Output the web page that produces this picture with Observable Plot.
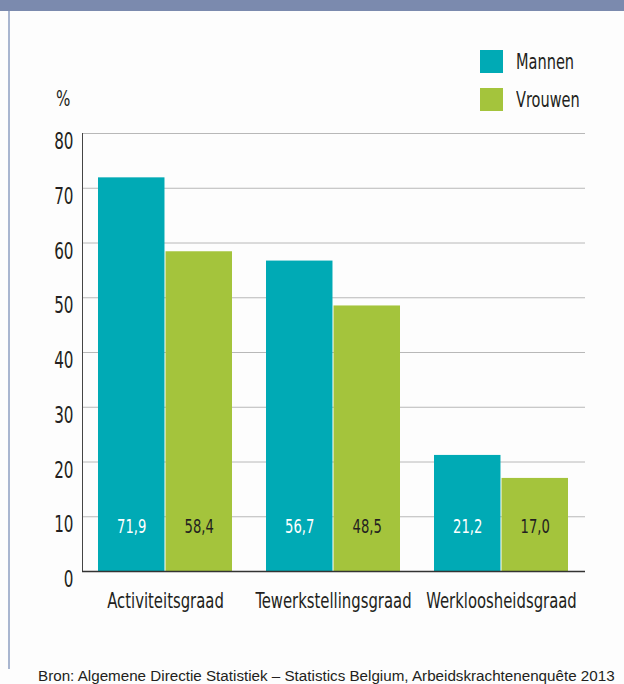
<!DOCTYPE html>
<html>
<head>
<meta charset="utf-8">
<script src="https://cdn.jsdelivr.net/npm/d3@7"></script>
<script src="https://cdn.jsdelivr.net/npm/@observablehq/plot@0.6"></script>
<style>
  html, body { margin: 0; padding: 0; background: #fdfdfd; }
  #page { position: relative; width: 624px; height: 684px; overflow: hidden; background: #fdfdfd;
    font-family: "DejaVu Sans Condensed", "DejaVu Sans", sans-serif; color: #231f20; }
  #header { position: absolute; left: 0; top: 0; width: 624px; height: 11px; background: #7b8aae; }
  #border { position: absolute; left: 8px; top: 11px; width: 2px; height: 658px; background: #a9b6d0; }
  #chart { position: absolute; left: 0; top: 0; }
  .sw { position: absolute; width: 23px; height: 23px; }
  .lt { position: absolute; font-size: 21px; line-height: 24px; transform: scaleX(0.77); transform-origin: left center; white-space: nowrap; }
  #pct { position: absolute; left: 56px; top: 87px; font-size: 21px; line-height: 24px; transform: scaleX(0.8); transform-origin: left center; }
  #caption { position: absolute; left: 38px; top: 667px; font-size: 15.2px; white-space: nowrap;
    font-family: "Liberation Sans", "DejaVu Sans", sans-serif; }
</style>
</head>
<body>
<div id="page">
  <div id="header"></div>
  <div id="border"></div>
  <div id="chart"></div>
  <div id="pct">%</div>
  <div class="sw" style="left:480px;top:50px;background:#00aab5"></div>
  <div class="lt" style="left:516px;top:50px">Mannen</div>
  <div class="sw" style="left:480px;top:88px;background:#a4c43c"></div>
  <div class="lt" style="left:516px;top:88px">Vrouwen</div>
  <div id="caption">Bron: Algemene Directie Statistiek – Statistics Belgium, Arbeidskrachtenenquête 2013</div>
</div>
<script>
const categories = ["Activiteitsgraad", "Tewerkstellingsgraad", "Werkloosheidsgraad"];
const mannen = [71.9, 56.7, 21.2];
const vrouwen = [58.4, 48.5, 17.0];
const yTicks = [0, 10, 20, 30, 40, 50, 60, 70, 80];

const teal = "#00aab5";
const green = "#a4c43c";

const rows = categories.map((c, i) => ({cat: c, m: mannen[i], v: vrouwen[i]}));
const fmt = d => d.toFixed(1).replace(".", ",");

const W = 624, ML = 82, MR = 39;
const pi = 0.2, po = 0.09;
const step = (W - ML - MR) / (categories.length - pi + 2 * po);
const half = step * (1 - pi) / 2;

const chart = Plot.plot({
  width: W,
  height: 620,
  marginLeft: ML,
  marginRight: MR,
  marginTop: 133,
  marginBottom: 49,
  style: {background: "transparent", fontFamily: "\"DejaVu Sans Condensed\", \"DejaVu Sans\", sans-serif", color: "#231f20"},
  x: {domain: categories, paddingInner: pi, paddingOuter: po, axis: null},
  y: {domain: [0, 80], axis: null},
  marks: [
    Plot.ruleY(yTicks.filter(d => d > 0), {stroke: "#b8b8b8", strokeWidth: 1}),
    Plot.barY(rows, {x: "cat", y: "m", fill: teal, insetRight: half}),
    Plot.barY(rows, {x: "cat", y: "v", fill: green, insetLeft: half}),
    Plot.text(rows, {x: "cat", y: () => 8.2, text: d => fmt(d.m), dx: -half / 2, fill: "white", fontSize: 19.5}),
    Plot.text(rows, {x: "cat", y: () => 8.2, text: d => fmt(d.v), dx: half / 2, fill: "#231f20", fontSize: 19.5}),
    Plot.frame({anchor: "left", stroke: "#444", strokeWidth: 1}),
    Plot.ruleY([0], {stroke: "#333", strokeWidth: 1.5}),
    Plot.axisY({ticks: yTicks, tickSize: 0, tickPadding: 9, dy: 8.5, fontSize: 22.5, label: null, fill: "#231f20"}),
    Plot.axisX({tickSize: 0, tickPadding: 21, fontSize: 22, label: null, fill: "#231f20"})
  ]
});
document.getElementById("chart").appendChild(chart);

// Narrow the glyphs to match the condensed typeface of the original.
const squeeze = 0.75;
chart.querySelectorAll("text").forEach(t => {
  const len = t.getComputedTextLength();
  if (len > 0) {
    t.setAttribute("textLength", (len * squeeze).toFixed(2));
    t.setAttribute("lengthAdjust", "spacingAndGlyphs");
  }
});
</script>
</body>
</html>
